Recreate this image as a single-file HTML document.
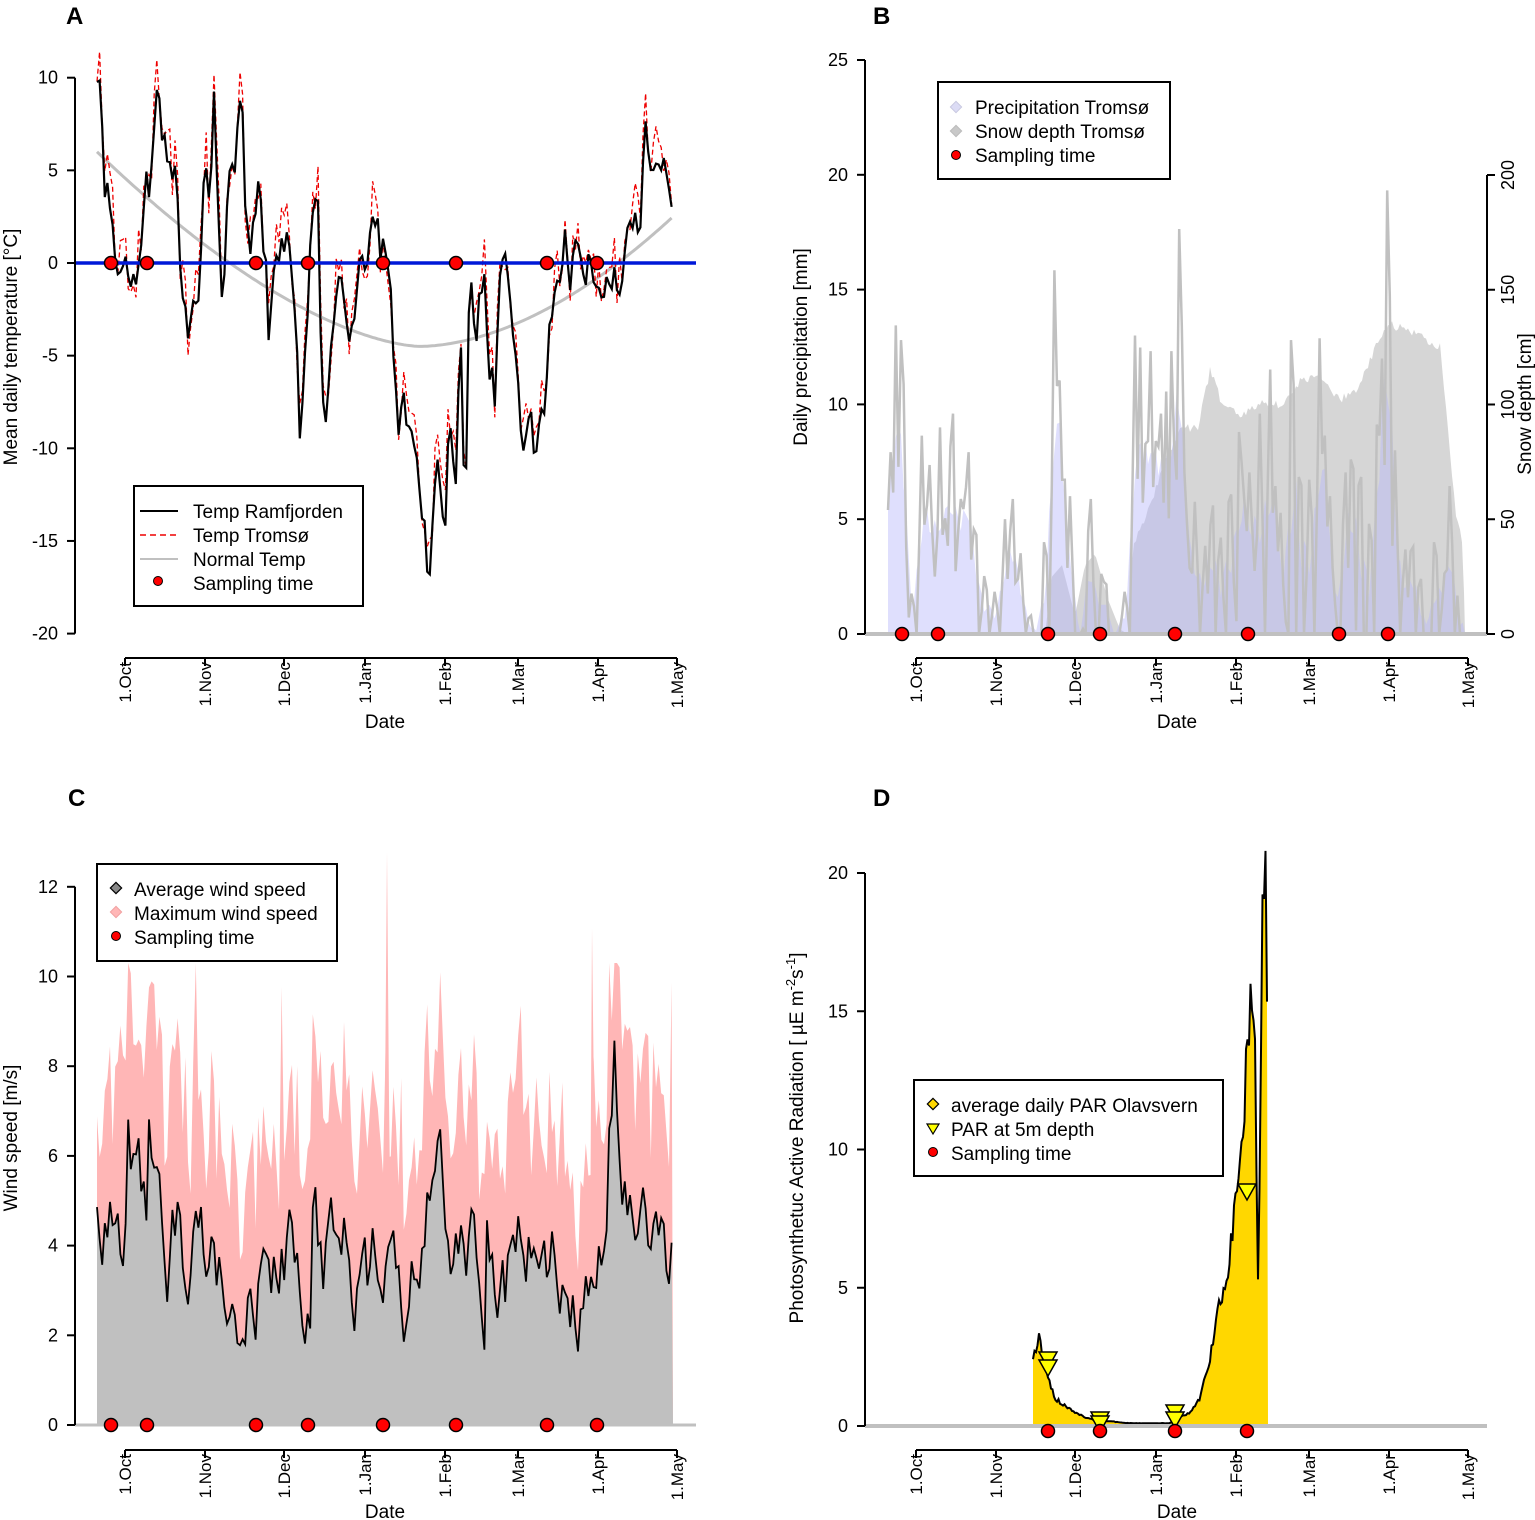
<!DOCTYPE html>
<html><head><meta charset="utf-8">
<style>
html,body{margin:0;padding:0;background:#fff;}
svg{display:block;font-family:"Liberation Sans",Arial,sans-serif;}
</style></head>
<body>
<svg id="s" width="1535" height="1520" viewBox="0 0 1535 1520" xmlns="http://www.w3.org/2000/svg">
<g id="g"></g>
<text x="66" y="24" font-size="24" font-weight="bold">A</text>
<text x="873" y="24" font-size="24" font-weight="bold">B</text>
<text x="68" y="806" font-size="24" font-weight="bold">C</text>
<text x="873" y="806" font-size="24" font-weight="bold">D</text>
<text transform="translate(17,347) rotate(-90)" font-size="19" text-anchor="middle">Mean daily temperature [°C]</text>
<text x="385" y="728" font-size="19" text-anchor="middle">Date</text>
<text transform="translate(807,347) rotate(-90)" font-size="19" text-anchor="middle">Daily precipitation [mm]</text>
<text transform="translate(1531,404) rotate(-90)" font-size="19" text-anchor="middle">Snow depth [cm]</text>
<text x="1177" y="728" font-size="19" text-anchor="middle">Date</text>
<text transform="translate(17,1138) rotate(-90)" font-size="19" text-anchor="middle">Wind speed [m/s]</text>
<text x="385" y="1518" font-size="19" text-anchor="middle">Date</text>
<text transform="translate(803,1138) rotate(-90)" font-size="19" text-anchor="middle">Photosynthetuc Active Radiation  [ µE m<tspan dy="-8" font-size="13">-2</tspan><tspan dy="8">s</tspan><tspan dy="-8" font-size="13">-1</tspan><tspan dy="8">]</tspan></text>
<text x="1177" y="1518" font-size="19" text-anchor="middle">Date</text>
</svg>
<script>
(function(){
var NS="http://www.w3.org/2000/svg",g=document.getElementById('g');
function el(t,a,txt){var e=document.createElementNS(NS,t);for(var k in a)e.setAttribute(k,a[k]);if(txt!==undefined)e.textContent=txt;g.appendChild(e);return e;}
var seed=12345;function rnd(){seed|=0;seed=seed+0x6D2B79F5|0;var t=Math.imul(seed^seed>>>15,1|seed);t=t+Math.imul(t^t>>>7,61|t)^t;return((t^t>>>14)>>>0)/4294967296;}
function interp(kp,x){for(var i=0;i<kp.length-1;i++){if(x>=kp[i][0]&&x<=kp[i+1][0]){var f=(x-kp[i][0])/(kp[i+1][0]-kp[i][0]);return kp[i][1]+f*(kp[i+1][1]-kp[i][1]);}}return x<kp[0][0]?kp[0][1]:kp[kp.length-1][1];}
function pts(a){return a.map(function(p){return p[0].toFixed(1)+','+p[1].toFixed(1)}).join(' ');}
var months=['1.Oct','1.Nov','1.Dec','1.Jan','1.Feb','1.Mar','1.Apr','1.May'];
var xtL=[125,205,284,365,445,518,598,677], xtR=[916,996,1075,1156,1236,1309,1389,1468];
function xaxis(xt,y){el('line',{x1:xt[0],y1:y,x2:xt[7],y2:y,stroke:'#000','stroke-width':2});
 xt.forEach(function(x,i){el('line',{x1:x,y1:y,x2:x,y2:y+8,stroke:'#000','stroke-width':2});
 el('text',{transform:'translate('+(x+6)+','+(y+4)+') rotate(-90)','font-size':17,'text-anchor':'end'},months[i]);});}
function yaxis(x,vals,ymap,side){var ys=vals.map(ymap);el('line',{x1:x,y1:ys[0],x2:x,y2:ys[ys.length-1],stroke:'#000','stroke-width':2});
 vals.forEach(function(v,i){var y=ys[i];if(side=='r'){el('line',{x1:x,y1:y,x2:x+8,y2:y,stroke:'#000','stroke-width':2});el('text',{transform:'translate('+(x+27)+','+y+') rotate(-90)','font-size':18,'text-anchor':'middle'},v);}
 else{el('line',{x1:x-8,y1:y,x2:x,y2:y,stroke:'#000','stroke-width':2});el('text',{x:x-17,y:y+6,'font-size':18,'text-anchor':'end'},v);}});}
function dot(x,y,r){el('circle',{cx:x,cy:y,r:r||6.5,fill:'#f00',stroke:'#000','stroke-width':1.5});}
var samp=[111,147,256,308,383,456,547,597], sampR=[902,938,1048,1100,1175,1248,1339,1388];

// ---------- Panel A ----------
var yA=function(v){return 263-v*18.53;};
var tk=[[97,9],[100,10],[105,4],[110,3],[115,0],[120,-1],[125,0],[130,-1],[135,-1],[140,0],[145,5],[150,3],[155,8],[158,10],[162,7],[168,6],[172,5],[176,6],[180,0],[185,-3],[189,-4],[193,-2],[197,-3],[200,0],[205,5],[210,3],[214,9],[218,2],[222,-2],[226,1],[230,6],[235,5],[239,8],[243,8],[246,2],[250,0],[255,3],[259,5],[262,2],[266,0],[269,-5],[273,-1],[278,0],[283,1],[288,2],[292,0],[296,-3],[300,-10],[305,-5],[310,0],[314,4],[318,3],[322,-8],[326,-8],[330,-5],[335,-3],[340,-1],[345,-2],[350,-4],[355,-2],[360,0],[365,0],[372,2],[376,3],[380,0],[385,1],[390,-1],[395,-6],[398,-10],[402,-7],[406,-8],[410,-9],[415,-10],[420,-13],[425,-14],[428,-17],[432,-15],[436,-10],[440,-12],[445,-14],[450,-8],[455,-13],[460,-3],[465,-14],[470,0],[475,-5],[480,-2],[485,-1],[490,-6],[495,-7],[500,-1],[505,0],[510,-2],[515,-4],[520,-8],[525,-10],[530,-7],[535,-12],[540,-8],[545,-9],[550,-3],[555,-2],[560,-1],[565,2],[570,-2],[575,2],[580,1],[585,-1],[590,0],[595,-1],[600,-2],[605,-1],[610,-1],[615,-1],[620,-2],[625,1],[630,2],[635,3],[640,2],[645,8],[650,5],[655,5],[660,6],[665,5],[670,3],[673,3]];
var ram=[],trm=[],nor=[];
for(var x=97;x<=673;x+=2.6){var v=interp(tk,x)+(rnd()-0.5)*1.6;ram.push([x,yA(v)]);trm.push([x,yA(v+(rnd()-0.3)*3)]);
 var nv=x<420?-4.5+10.5*Math.pow((420-x)/323,1.6):-4.5+7*Math.pow((x-420)/253,1.8);nor.push([x,yA(nv)]);}
el('polyline',{points:pts(nor),fill:'none',stroke:'#c0c0c0','stroke-width':3});
el('polyline',{points:pts(trm),fill:'none',stroke:'#e00','stroke-width':1.3,'stroke-dasharray':'5,3'});
el('polyline',{points:pts(ram),fill:'none',stroke:'#000','stroke-width':2.2});
el('line',{x1:75,y1:263,x2:696,y2:263,stroke:'#0018d8','stroke-width':3.5});
samp.forEach(function(x){dot(x,263);});
yaxis(75,[10,5,0,-5,-10,-15,-20],yA);
xaxis(xtL,658);
el('rect',{x:134,y:486,width:229,height:120,fill:'#fff',stroke:'#000','stroke-width':2});
el('line',{x1:140,y1:511,x2:178,y2:511,stroke:'#000','stroke-width':2});
el('line',{x1:140,y1:535,x2:178,y2:535,stroke:'#e00','stroke-width':1.5,'stroke-dasharray':'6,4'});
el('line',{x1:140,y1:559,x2:178,y2:559,stroke:'#c0c0c0','stroke-width':2});
el('circle',{cx:158,cy:581,r:4.5,fill:'#f00',stroke:'#000','stroke-width':1});
[['Temp Ramfjorden',518],['Temp Tromsø',542],['Normal Temp',566],['Sampling time',590]].forEach(function(a){el('text',{x:193,y:a[1],'font-size':19},a[0]);});

// ---------- Panel B ----------
var yB=function(v){return 634-v*22.96;}, yS=function(v){return 634-v*2.295;};
var sk=[[890,0],[1045,0],[1052,25],[1062,30],[1075,8],[1085,30],[1095,35],[1108,15],[1120,2],[1128,0],[1133,38],[1150,55],[1165,75],[1180,90],[1198,90],[1210,115],[1222,100],[1240,95],[1260,100],[1280,100],[1300,110],[1320,112],[1340,102],[1360,108],[1375,125],[1390,135],[1420,130],[1440,125],[1455,55],[1463,38],[1465,0]];
var sp=[[890,634]];for(x=890;x<=1465;x+=2){sp.push([x,yS(Math.max(0,interp(sk,x)+(x>1130?(rnd()-0.5)*4:0)))]);}sp.push([1465,634]);
el('polygon',{points:pts(sp),fill:'#d6d6d6'});
var spikes=[[890,9],[896,14],[902,16],[905,5],[912,2],[922,9],[926,7],[930,8],[940,9],[946,6],[952,12],[960,7],[965,8],[968,9],[975,6],[985,3],[995,2],[1005,5],[1012,7],[1020,4],[1030,1],[1045,5],[1055,18],[1060,12],[1064,8],[1070,6],[1090,7],[1105,3],[1125,2],[1135,13],[1140,13],[1145,9],[1150,14],[1155,10],[1160,12],[1166,11],[1172,14],[1180,21],[1185,8],[1195,6],[1205,4],[1212,7],[1220,5],[1230,8],[1240,11],[1245,7],[1250,8],[1260,10],[1270,12],[1275,7],[1280,6],[1292,16],[1300,9],[1310,8],[1320,14],[1325,9],[1330,6],[1345,8],[1352,10],[1360,9],[1370,6],[1378,12],[1382,12],[1388,23],[1395,8],[1405,4],[1412,5],[1420,3],[1435,5],[1445,3],[1450,7]];
var pr=[];for(x=888;x<=1465;x+=2.6){var m=0;spikes.forEach(function(s){var d=Math.abs(x-s[0]);if(d<3.5)m=Math.max(m,s[1]*(1-d/5));});if(m<0.5)m=rnd()<0.25?rnd()*3:0;pr.push([x,m]);}
var lav=[[888,634]];for(var i=0;i<pr.length;i++){var s=0,n=0;for(var j=-2;j<=2;j++){if(pr[i+j]){s+=pr[i+j][1];n++;}}lav.push([pr[i][0],yB(s/n*0.9)]);}lav.push([1465,634]);
el('polygon',{points:pts(lav),fill:'rgba(185,185,250,0.45)'});
el('polyline',{points:pts(pr.map(function(p){return[p[0],yB(p[1])]})),fill:'none',stroke:'#c0c0c0','stroke-width':2.5});
el('line',{x1:865,y1:634,x2:1487,y2:634,stroke:'#c0c0c0','stroke-width':4});
sampR.forEach(function(x){dot(x,634);});
yaxis(865,[0,5,10,15,20,25],yB);
yaxis(1487,[0,50,100,150,200],yS,'r');
xaxis(xtR,658);
el('rect',{x:938,y:82,width:232,height:97,fill:'#fff',stroke:'#000','stroke-width':2});
el('rect',{x:952,y:103,width:8,height:8,fill:'#dcdcf5',stroke:'#c8c8e0',transform:'rotate(45 956 107)'});
el('rect',{x:952,y:127,width:8,height:8,fill:'#c8c8c8',stroke:'#bbb',transform:'rotate(45 956 131)'});
el('circle',{cx:956,cy:155,r:4.5,fill:'#f00',stroke:'#000','stroke-width':1});
[['Precipitation Tromsø',114],['Snow depth Tromsø',138],['Sampling time',162]].forEach(function(a){el('text',{x:975,y:a[1],'font-size':19},a[0]);});

// ---------- Panel C ----------
var yC=function(v){return 1425-v*44.85;};
var mx=[[97,1425]],av=[[97,1425]],avl=[];var a=4;
for(x=97;x<=673;x+=2.6){a+= (rnd()-0.5)*2.4;a+= (3.5-a)*0.2;a=Math.max(1,Math.min(7,a));if(rnd()<0.04)a+=2;
 var mv=a+1.8+rnd()*2.6;if(rnd()<0.05)mv+=1.5;mv=Math.min(mv,10.3);mx.push([x,yC(mv)]);av.push([x,yC(a)]);avl.push([x,yC(a)]);}
mx.push([673,1425]);av.push([673,1425]);
el('polygon',{points:pts(mx),fill:'#ffb6b6'});
el('polygon',{points:'381,1425 385,1100 387,852 389,1100 393,1425',fill:'#ffb6b6'});
el('polygon',{points:'589,1425 591,1100 592,928 594,1100 596,1425',fill:'#ffb6b6'});
el('polygon',{points:pts(av),fill:'#c0c0c0'});
el('polyline',{points:pts(avl),fill:'none',stroke:'#000','stroke-width':1.8});
el('line',{x1:75,y1:1425,x2:696,y2:1425,stroke:'#c0c0c0','stroke-width':3});
samp.forEach(function(x){dot(x,1425);});
yaxis(75,[0,2,4,6,8,10,12],yC);
xaxis(xtL,1450);
el('rect',{x:97,y:864,width:240,height:97,fill:'#fff',stroke:'#000','stroke-width':2});
el('rect',{x:112,y:884,width:8,height:8,fill:'#888',stroke:'#000','stroke-width':1.2,transform:'rotate(45 116 888)'});
el('rect',{x:112,y:908,width:8,height:8,fill:'#ffb6b6',stroke:'#f0a0a0',transform:'rotate(45 116 912)'});
el('circle',{cx:116,cy:936,r:4.5,fill:'#f00',stroke:'#000','stroke-width':1});
[['Average wind speed',896],['Maximum wind speed',920],['Sampling time',944]].forEach(function(a){el('text',{x:134,y:a[1],'font-size':19},a[0]);});

// ---------- Panel D ----------
var yD=function(v){return 1426-v*27.65;};
var dk=[[1033,2.5],[1040,3.3],[1045,2],[1055,1],[1070,0.6],[1085,0.3],[1100,0.2],[1130,0.1],[1170,0.1],[1190,0.5],[1200,1],[1210,2.5],[1220,4.5],[1228,5.5],[1235,8],[1240,9],[1245,12],[1250,16],[1255,14],[1258,5],[1262,17],[1265,20.5],[1268,14]];
var dp=[[1033,1426]],dl=[];for(x=1033;x<=1268;x+=1.5){var v=interp(dk,x);v=Math.max(0,v*(1+(rnd()-0.5)*(x>1230?0.2:0.15)));v=Math.min(v,20.8);dp.push([x,yD(v)]);dl.push([x,yD(v)]);}dp.push([1268,1426]);
el('polygon',{points:pts(dp),fill:'#ffd700'});
el('polyline',{points:pts(dl),fill:'none',stroke:'#000','stroke-width':2});
el('line',{x1:865,y1:1426,x2:1487,y2:1426,stroke:'#c0c0c0','stroke-width':4});
function tri(x,y){el('polygon',{points:(x-9)+','+(y-8)+' '+(x+9)+','+(y-8)+' '+x+','+(y+8),fill:'#ffff00',stroke:'#000','stroke-width':1.5});}
tri(1048,1360);tri(1048,1368);tri(1100,1420);tri(1100,1424);tri(1175,1413);tri(1175,1420);tri(1247,1192);
[1048,1100,1175,1247].forEach(function(x){dot(x,1431);});
yaxis(865,[0,5,10,15,20],yD);
xaxis(xtR,1450);
el('rect',{x:914,y:1080,width:309,height:96,fill:'#fff',stroke:'#000','stroke-width':2});
el('rect',{x:929,y:1100,width:8,height:8,fill:'#ffd700',stroke:'#000','stroke-width':1.2,transform:'rotate(45 933 1104)'});
el('polygon',{points:'927,1124 939,1124 933,1134',fill:'#ffff00',stroke:'#000','stroke-width':1.2});
el('circle',{cx:933,cy:1152,r:4.5,fill:'#f00',stroke:'#000','stroke-width':1});
[['average daily PAR Olavsvern',1112],['PAR at 5m depth',1136],['Sampling time',1160]].forEach(function(a){el('text',{x:951,y:a[1],'font-size':19},a[0]);});
})();
</script>
</body></html>
